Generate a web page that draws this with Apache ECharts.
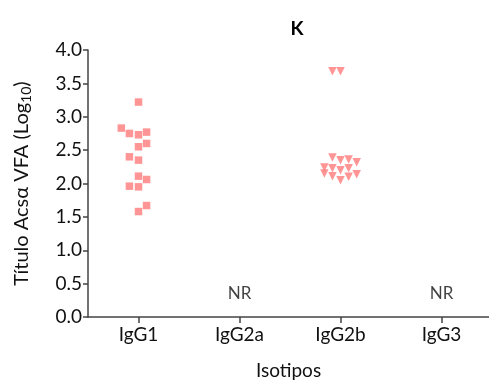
<!DOCTYPE html>
<html><head><meta charset="utf-8">
<script src="https://cdn.jsdelivr.net/npm/echarts@6/dist/echarts.min.js"></script>
<style>html,body{margin:0;padding:0;background:#fff}#c{width:489px;height:387px}</style>
</head><body><div id="c"></div>
<script>
const categories = ['IgG1','IgG2a','IgG2b','IgG3'];
// IgG1 points: [x position (category index, jittered), value]
const igg1 = [[1.0,3.22],[0.83,2.83],[0.91,2.75],[1.0,2.73],[1.08,2.77],[1.08,2.60],[1.0,2.55],[0.91,2.40],[1.0,2.35],[1.0,2.11],[1.08,2.06],[0.91,1.96],[1.0,1.95],[1.08,1.67],[1.0,1.58]];
const igg2b = [[2.92,3.68],[3.0,3.68],[2.92,2.39],[3.0,2.35],[3.08,2.36],[3.16,2.32],[2.84,2.24],[2.92,2.23],[3.0,2.20],[3.08,2.23],[2.84,2.15],[3.16,2.14],[2.92,2.11],[3.08,2.10],[3.0,2.05]];
const nrLabels = [[2,0.35],[4,0.35]];
const font = 'Lato, "Open Sans", sans-serif';
const chart = echarts.init(document.getElementById('c'));
chart.setOption({
  animation:false,
  title:{text:'K',left:292,top:14,textAlign:'center',textStyle:{fontFamily:font,fontSize:19,fontWeight:'bold',color:'#000'}},
  grid:{left:88,right:0,top:50,bottom:70},
  xAxis:{type:'value',min:0.5,max:4.47,interval:1,
    axisLine:{lineStyle:{color:'#444',width:1.5}},
    axisTick:{show:true,length:6,lineStyle:{color:'#444',width:1.5},customValues:[1,2,3,4]},
    axisLabel:{customValues:[1,2,3,4],formatter:v=>categories[Math.round(v)-1]||'',fontFamily:font,fontSize:19,color:'#111',margin:8},
    splitLine:{show:false},
    name:'Isotipos',nameLocation:'middle',nameGap:44,nameTextStyle:{fontFamily:font,fontSize:19,color:'#111'}},
  yAxis:{type:'value',min:0,max:4,interval:0.5,
    axisLine:{show:true,lineStyle:{color:'#444',width:1.5}},
    axisTick:{show:true,length:5,lineStyle:{color:'#444',width:1.5}},
    axisLabel:{formatter:v=>v.toFixed(1),fontFamily:font,fontSize:19,color:'#111',margin:6},
    splitLine:{show:false},
    name:'{a|Título Acs\u03b1 VFA (Log}{b|10}{a|)}',nameLocation:'middle',nameGap:55,
    nameTextStyle:{rich:{a:{fontFamily:font,fontSize:20,color:'#111'},b:{fontFamily:font,fontSize:14,color:'#111',padding:[9,0,0,0]}}}},
  series:[
    {type:'scatter',data:igg1,symbol:'rect',symbolSize:7.5,itemStyle:{color:'#ff7b7b'}},
    {type:'scatter',data:igg2b,symbol:'triangle',symbolRotate:180,symbolSize:8.5,itemStyle:{color:'#ff7b7b'}},
    {type:'scatter',data:nrLabels,symbolSize:0,label:{show:true,formatter:'NR',position:'inside',fontFamily:font,fontSize:17,color:'#111'}}
  ]
});
</script></body></html>
